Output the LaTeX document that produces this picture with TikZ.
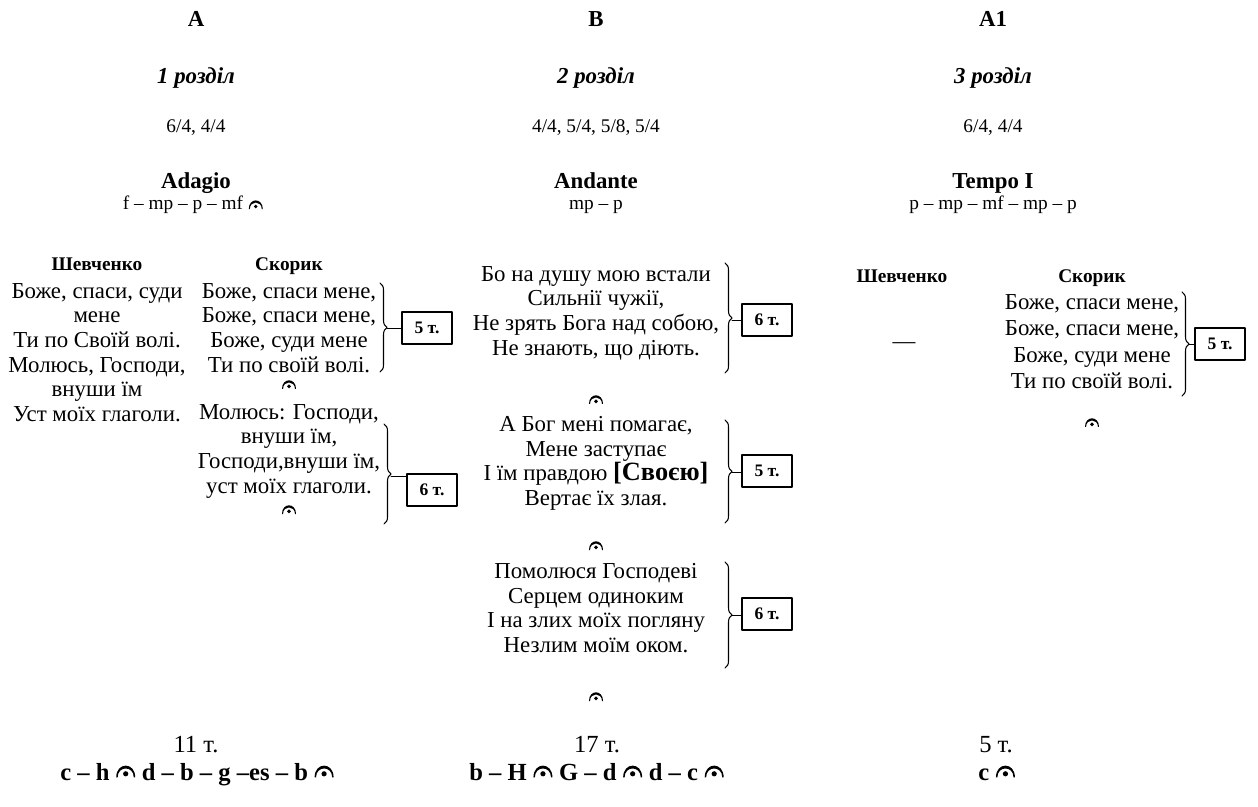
\documentclass[tikz,border=0pt]{standalone}
\usepackage{fontspec}
\setmainfont{Liberation Serif}
\usetikzlibrary{decorations.pathreplacing}

\tikzset{
  % fermata sign, origin at the middle of its foot
  fermata/.pic={
    \fill (-4pt,0pt) .. controls (-4pt,6.6pt) and (4pt,6.6pt) .. (4pt,0pt) -- (3.4pt,0pt) .. controls (3.4pt,5pt) and (-3.4pt,5pt) .. (-3.4pt,0pt) -- cycle;
    \fill (0pt,1.5pt) circle[radius=1.1pt];
  }
}

\begin{document}
\begin{tikzpicture}[x=0.02cm,y=-0.02cm,line cap=round,line join=round,
  every node/.style={inner sep=0pt},
  part/.style={anchor=base,font=\fontsize{13}{15}\selectfont\bfseries},
  section/.style={anchor=base,font=\fontsize{13}{15}\selectfont\bfseries\itshape},
  metre/.style={anchor=base,font=\fontsize{11}{13}\selectfont},
  tempo/.style={anchor=base,font=\fontsize{13}{15}\selectfont\bfseries},
  dyn/.style={anchor=base,font=\fontsize{11}{13}\selectfont},
  poet/.style={anchor=base,font=\fontsize{11}{13}\selectfont\bfseries},
  verse/.style={anchor=north,align=center,font=\fontsize{13}{14}\selectfont},
  bars/.style={draw,line width=0.6pt,inner sep=2pt,minimum width=1cm,minimum height=0.64cm,font=\fontsize{10}{12}\selectfont\bfseries},
  bracket/.style={decorate,decoration={brace,amplitude=4pt},line width=0.6pt},
  total/.style={anchor=base,font=\fontsize{14}{16}\selectfont},
  tonal/.style={anchor=base west,font=\fontsize{14}{16}\selectfont\bfseries},
  bigferm/.style={scale=1.35}]
\useasboundingbox (0,0) rectangle (1258,807);
% A
\begin{scope}[shift={(196,0)}]
\node[part] (partA) at (0,27) {A};
\node[section] (secA) at (0,84) {1 розділ};
\node[metre] (metA) at (0,133) {6/4, 4/4};
\node[tempo] (tempoA) at (0,189) {Adagio};
\node[dyn] (dynA) at (-13,210) {f – mp – p – mf};
\pic (fermDynA) at ([xshift=7pt,yshift=0.5pt]dynA.base east) {fermata};
\node[poet] (shevA) at (-99,271) {Шевченко};
\node[poet] (skorA) at (93,271) {Скорик};
\node[verse] (textShevA) at (-99,283) {Боже, спаси, суди\\мене\\Ти по Своїй волі.\\Молюсь, Господи,\\внуши їм\\Уст моїх глаголи.};
\node[verse] (textSkorA1) at (93,283) {Боже, спаси мене,\\Боже, спаси мене,\\Боже, суди мене\\Ти по своїй волі.};
\pic (fermA1) at (93,389) {fermata};
\node[verse] (textSkorA2) at (93,404) {Молюсь: Господи,\\внуши їм,\\Господи,внуши їм,\\уст моїх глаголи.};
\pic (fermA2) at (93,514) {fermata};
\draw[bracket] (184,283) -- (184,372);
\coordinate (tipA1) at (191,328);
\node[bars] (barsA1) at (231,328) {5 т.};
\draw (tipA1) -- (barsA1);
\draw[bracket] (188,424) -- (188,524);
\coordinate (tipA2) at (195,476);
\node[bars] (barsA2) at (236,490) {6 т.};
\draw (tipA2) -- (tipA2 -| barsA2.west);
\node[total] (totalA) at (0,752) {11 т.};
\node[tonal] (tonalA1) at (-136,780) {c – h};
\pic[bigferm] (fermTA1) at ([xshift=9pt,yshift=1.5pt]tonalA1.base east) {fermata};
\node[tonal] (tonalA2) at ([xshift=18pt]tonalA1.base east) {d – b – g –es – b};
\pic[bigferm] (fermTA2) at ([xshift=9pt,yshift=1.5pt]tonalA2.base east) {fermata};
\end{scope}
% B
\begin{scope}[shift={(596,0)}]
\node[part] (partB) at (0,27) {B};
\node[section] (secB) at (0,84) {2 розділ};
\node[metre] (metB) at (0,133) {4/4, 5/4, 5/8, 5/4};
\node[tempo] (tempoB) at (0,189) {Andante};
\node[dyn] (dynB) at (0,210) {mp – p};
\node[verse] (textB1) at (0,266) {Бо на душу мою встали\\Сильнії чужії,\\Не зрять Бога над собою,\\Не знають, що діють.};
\pic (fermB1) at (0,404) {fermata};
\node[verse] (textB2) at (0,416) {А Бог мені помагає,\\Мене заступає\\І їм правдою {\bfseries\fontsize{15}{14}\selectfont[Своєю]}\\Вертає їх злая.};
\pic (fermB2) at (0,550) {fermata};
\node[verse] (textB3) at (0,563) {Помолюся Господеві\\Серцем одиноким\\І на злих моїх погляну\\Незлим моїм оком.};
\pic (fermB3) at (0,701) {fermata};
\draw[bracket] (129,263) -- (129,373);
\coordinate (tipB1) at (136,320);
\node[bars] (barsB1) at (171,320) {6 т.};
\draw (tipB1) -- (barsB1);
\draw[bracket] (129,420) -- (129,523);
\coordinate (tipB2) at (136,472);
\node[bars] (barsB2) at (171,471) {5 т.};
\draw (tipB2) -- (tipB2 -| barsB2.west);
\draw[bracket] (129,562) -- (129,668);
\coordinate (tipB3) at (136,615);
\node[bars] (barsB3) at (171,614) {6 т.};
\draw (tipB3) -- (tipB3 -| barsB3.west);
\node[total] (totalB) at (1,752) {17 т.};
\node[tonal] (tonalB1) at (-127,780) {b – H};
\pic[bigferm] (fermTB1) at ([xshift=9pt,yshift=1.5pt]tonalB1.base east) {fermata};
\node[tonal] (tonalB2) at ([xshift=18pt]tonalB1.base east) {G – d};
\pic[bigferm] (fermTB2) at ([xshift=9pt,yshift=1.5pt]tonalB2.base east) {fermata};
\node[tonal] (tonalB3) at ([xshift=18pt]tonalB2.base east) {d – c};
\pic[bigferm] (fermTB3) at ([xshift=9pt,yshift=1.5pt]tonalB3.base east) {fermata};
\end{scope}
% A1
\begin{scope}[shift={(993,0)}]
\node[part] (partA1) at (0,27) {A1};
\node[section] (secA1) at (0,84) {3 розділ};
\node[metre] (metA1) at (0,133) {6/4, 4/4};
\node[tempo] (tempoA1) at (0,189) {Tempo I};
\node[dyn] (dynA1) at (0,210) {p – mp – mf – mp – p};
\node[poet] (shevA1) at (-91,283) {Шевченко};
\node[poet] (skorA1) at (99,283) {Скорик};
\node[anchor=base,font=\fontsize{13}{14}\selectfont] (textShevA1) at (-89,349) {—};
\node[verse,font=\fontsize{13}{15}\selectfont] (textSkorA1) at (99,294) {Боже, спаси мене,\\Боже, спаси мене,\\Боже, суди мене\\Ти по своїй волі.};
\pic (fermA1) at (99,427) {fermata};
\draw[bracket] (189,292) -- (189,396);
\coordinate (tipA1) at (196,344);
\node[bars] (barsA1) at (227,344) {5 т.};
\draw (tipA1) -- (barsA1);
\node[total] (totalA1) at (3,752) {5 т.};
\node[tonal] (tonalA1) at (-15,780) {c};
\pic[bigferm] (fermTA1) at ([xshift=9pt,yshift=1.5pt]tonalA1.base east) {fermata};
\end{scope}
\end{tikzpicture}
\end{document}
